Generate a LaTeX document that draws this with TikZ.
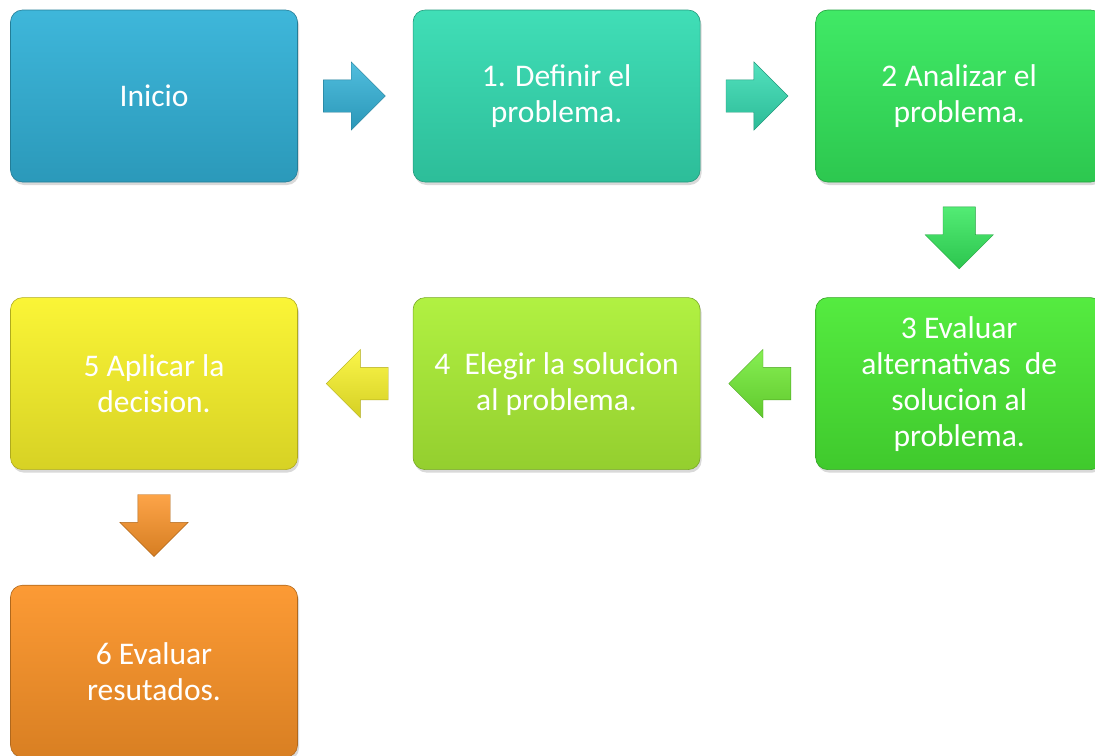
\documentclass[tikz,border=0pt]{standalone}
\usepackage{fontspec}
\setmainfont{Carlito}
\usetikzlibrary{shapes.arrows,positioning,calc,shadows}
\definecolor{c_inicio}{HTML}{32B2D8}
\definecolor{c_definir}{HTML}{34DCB2}
\definecolor{c_analizar}{HTML}{34E85C}
\definecolor{c_evaluar}{HTML}{4AEA34}
\definecolor{c_elegir}{HTML}{ACF036}
\definecolor{c_aplicar}{HTML}{FAF42A}
\definecolor{c_resultados}{HTML}{FC9428}
\tikzset{BOX/.style={rectangle,rounded corners=12pt,minimum width=287pt,minimum height=172pt,align=center,text=white,font=\fontsize{31.5}{36}\selectfont,draw=#1!70!black,semithick,top color=#1!94!white,bottom color=#1!86!black,drop shadow={opacity=0.3,shadow xshift=1.5pt,shadow yshift=-3pt}}}
\tikzset{FLECHA/.style={single arrow,single arrow head extend=18pt,minimum height=62pt,inner xsep=0pt,inner ysep=16pt,draw=#1!70!black,thin,top color=#1!85!white,bottom color=#1!85!black}}
\tikzset{BAJA/.style={shape border rotate=270,inner xsep=16pt,inner ysep=0pt,yshift=10pt}}

\begin{document}
\begin{tikzpicture}[x=1pt,y=1pt]

\useasboundingbox (0,0) rectangle (1095,-755);

\node[BOX=c_inicio] (n_inicio) at (154,-96) {Inicio};
\node[BOX=c_definir, right=115pt of n_inicio] (n_definir) {1. Definir el\\problema.};
\node[BOX=c_analizar, right=115pt of n_definir] (n_analizar) {2 Analizar el\\problema.};

\node[BOX=c_evaluar, below=115pt of n_analizar] (n_evaluar) {3 Evaluar\\alternativas\ \ de\\solucion al\\problema.};
\node[BOX=c_elegir, left=115pt of n_evaluar] (n_elegir) {4\ \ Elegir la solucion\\al problema.};
\node[BOX=c_aplicar, left=115pt of n_elegir] (n_aplicar) {5 Aplicar la\\decision.};

\node[BOX=c_resultados, below=115pt of n_aplicar] (n_resultados) {6 Evaluar\\resutados.};

% flechas entre pasos
\node[FLECHA=c_inicio, xshift=-9pt] (f_uno) at ($(n_inicio.east)!0.5!(n_definir.west)$) {};
\node[FLECHA=c_definir, xshift=-9pt] (f_dos) at ($(n_definir.east)!0.5!(n_analizar.west)$) {};
\node[FLECHA=c_analizar, BAJA] (f_tres) at ($(n_analizar.south)!0.5!(n_evaluar.north)$) {};
\node[FLECHA=c_evaluar!60!c_elegir, shape border rotate=180, xshift=10pt] (f_cuatro) at ($(n_evaluar.west)!0.5!(n_elegir.east)$) {};
\node[FLECHA=c_aplicar, shape border rotate=180, xshift=10pt] (f_cinco) at ($(n_elegir.west)!0.5!(n_aplicar.east)$) {};
\node[FLECHA=c_resultados, BAJA] (f_seis) at ($(n_aplicar.south)!0.5!(n_resultados.north)$) {};

\end{tikzpicture}
\end{document}
